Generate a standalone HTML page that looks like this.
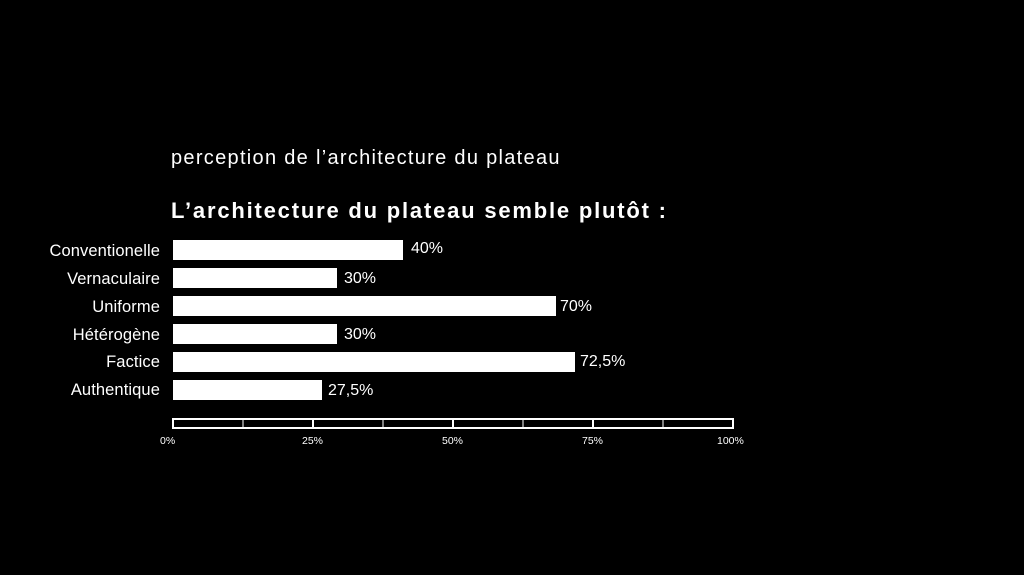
<!DOCTYPE html>
<html><head><style>
body{margin:0;width:1024px;height:575px;background:#000;position:relative;overflow:hidden;font-family:"Liberation Sans",sans-serif;color:#fff}
.a{position:absolute;white-space:nowrap}
.bar{position:absolute;background:#fff;height:20px;left:173px}
.lab{position:absolute;right:864px;font-size:16.5px;line-height:20px;text-align:right;letter-spacing:0.1px}
.val{position:absolute;font-size:16px;line-height:20px}
.tk{position:absolute;font-size:10.5px;top:435px}
</style></head><body>
<div class="a" style="left:171px;top:147px;font-size:20px;letter-spacing:1.3px">perception de l’architecture du plateau</div>
<div class="a" style="left:171px;top:198px;font-size:22px;font-weight:bold;letter-spacing:1.8px">L’architecture du plateau semble plutôt :</div>

<div class="lab" style="top:241px">Conventionelle</div><div class="bar" style="top:240px;width:230px"></div><div class="val" style="left:411px;top:239px">40%</div>
<div class="lab" style="top:269px">Vernaculaire</div><div class="bar" style="top:268px;width:164px"></div><div class="val" style="left:344px;top:269px">30%</div>
<div class="lab" style="top:297px">Uniforme</div><div class="bar" style="top:296px;width:383px"></div><div class="val" style="left:560px;top:297px">70%</div>
<div class="lab" style="top:325px">Hétérogène</div><div class="bar" style="top:324px;width:164px"></div><div class="val" style="left:344px;top:325px">30%</div>
<div class="lab" style="top:352px">Factice</div><div class="bar" style="top:352px;width:402px"></div><div class="val" style="left:580px;top:352px">72,5%</div>
<div class="lab" style="top:380px">Authentique</div><div class="bar" style="top:380px;width:149px"></div><div class="val" style="left:328px;top:381px">27,5%</div>

<svg class="a" style="left:0;top:0" width="1024" height="575">
<rect x="173" y="419" width="560" height="9" fill="none" stroke="#fff" stroke-width="2"/>
<g stroke="#fff" stroke-width="1">
<line x1="243" y1="419" x2="243" y2="428"/><line x1="383" y1="419" x2="383" y2="428"/><line x1="523" y1="419" x2="523" y2="428"/><line x1="663" y1="419" x2="663" y2="428"/>
</g>
<g stroke="#fff" stroke-width="2">
<line x1="313" y1="419" x2="313" y2="428"/><line x1="453" y1="419" x2="453" y2="428"/><line x1="593" y1="419" x2="593" y2="428"/>
</g>
</svg>
<div class="tk" style="left:160px">0%</div>
<div class="tk" style="left:302px">25%</div>
<div class="tk" style="left:442px">50%</div>
<div class="tk" style="left:582px">75%</div>
<div class="tk" style="left:717px">100%</div>
</body></html>
